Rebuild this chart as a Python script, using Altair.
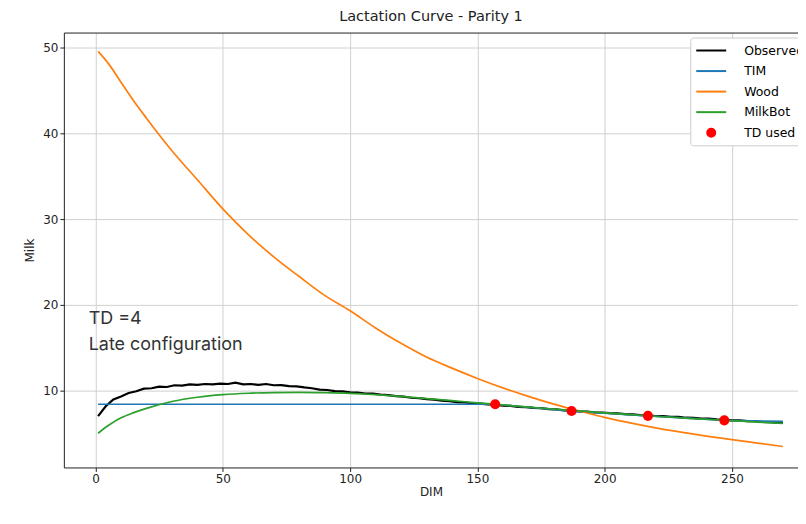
import altair as alt
import pandas as pd

# ---------------- data ----------------
obs_dim = list(range(1, 270, 3)) + [270]
obs_milk = [7.0, 8.15, 8.95, 9.3, 9.7, 9.9, 10.2, 10.25, 10.45, 10.4,
            10.6, 10.55, 10.7, 10.65, 10.75, 10.7, 10.8, 10.75, 10.9, 10.7,
            10.75, 10.65, 10.75, 10.6, 10.62, 10.5, 10.48, 10.35, 10.25, 10.1,
            10.05, 9.92, 9.88, 9.78, 9.75, 9.64, 9.62, 9.5, 9.45, 9.33,
            9.28, 9.14, 9.1, 8.98, 8.92, 8.8, 8.75, 8.64, 8.6, 8.5,
            8.45, 8.36, 8.34, 8.22, 8.2, 8.08, 8.05, 7.95, 7.93, 7.82,
            7.78, 7.67, 7.64, 7.56, 7.52, 7.44, 7.42, 7.34, 7.32, 7.24,
            7.2, 7.11, 7.1, 7.01, 7.0, 6.91, 6.9, 6.81, 6.8, 6.71,
            6.7, 6.61, 6.6, 6.51, 6.5, 6.41, 6.4, 6.31, 6.3, 6.21, 6.2]

fit_dim = [1, 5, 10, 15, 20, 30, 40, 50, 60, 70, 80, 90, 100, 110, 120, 130,
           140, 150, 160, 170, 180, 190, 200, 210, 220, 230, 240, 250, 260, 270]
wood_milk = [49.6, 48.2, 46.0, 43.8, 41.8, 38.0, 34.6, 31.2, 28.2, 25.6,
             23.3, 21.1, 19.3, 17.3, 15.5, 13.9, 12.6, 11.4, 10.3, 9.3,
             8.4, 7.6, 6.85, 6.2, 5.62, 5.12, 4.67, 4.25, 3.85, 3.45]
milkbot_milk = [5.0, 5.9, 6.8, 7.4, 7.9, 8.7, 9.2, 9.5, 9.67, 9.75,
                9.77, 9.73, 9.65, 9.5, 9.3, 9.05, 8.8, 8.55, 8.3, 8.05,
                7.82, 7.6, 7.38, 7.18, 6.98, 6.8, 6.63, 6.47, 6.3, 6.15]

tim_dim = [1, 157, 187, 217, 247, 270]
tim_milk = [8.38, 8.38, 7.59, 7.03, 6.50, 6.38]

td_dim = [157, 187, 217, 247]
td_milk = [8.38, 7.6, 7.03, 6.5]

series_names = ["Observed", "TIM", "Wood", "MilkBot", "TD used"]
series_colors = ["#000000", "#1f77b4", "#ff7f0e", "#2ca02c", "#ff0000"]

note_text = ["TD =4", "Late configuration"]
note_x = [-2.7, -2.7]
note_y = [18.3, 15.3]

x_ticks = [0, 50, 100, 150, 200, 250]
y_ticks = [10, 20, 30, 40, 50]

# ---------------- tables ----------------
def frame(name, dims, vals):
    return pd.DataFrame({"DIM": dims, "Milk": vals, "series": name})

obs_df = frame("Observed", obs_dim, obs_milk)
tim_df = frame("TIM", tim_dim, tim_milk)
wood_df = frame("Wood", fit_dim, wood_milk)
mb_df = frame("MilkBot", fit_dim, milkbot_milk)
td_df = frame("TD used", td_dim, td_milk)
note_df = pd.DataFrame({"x": note_x, "y": note_y, "text": note_text})

# plot area is cropped on the right like the reference picture
x_scale = alt.Scale(domain=[-12.45, 275.95], nice=False, zero=False)
y_scale = alt.Scale(domain=[1.0, 51.8], nice=False, zero=False)
color_scale = alt.Scale(domain=series_names, range=series_colors)

line_path = "M-1.875,0H1.875"
dot_path = "M0.5,0A0.5,0.5,0,1,1,-0.5,0A0.5,0.5,0,1,1,0.5,0Z"
shape_scale = alt.Scale(domain=series_names,
                        range=[line_path, line_path, line_path, line_path, dot_path])

legend = alt.Legend(
    title=None, orient="none", legendX=628, legendY=5,
    fillColor="white", strokeColor="#cccccc", padding=4, cornerRadius=3,
    labelFontSize=12.5, labelFont="DejaVu Sans", labelColor="#000000",
    symbolSize=256, symbolStrokeWidth=2, symbolOffset=8,
    rowPadding=4.6, labelOffset=24,
)

x_axis = alt.Axis(values=x_ticks, title="DIM")
y_axis = alt.Axis(values=y_ticks, title="Milk")
top_axis = alt.Axis(orient="top", labels=False, ticks=False, grid=False, domain=True, title=None)


def line_layer(df, width, interp, with_x_axis=False):
    return alt.Chart(df).mark_line(strokeWidth=width, clip=True, interpolate=interp).encode(
        x=alt.X("DIM:Q", scale=x_scale, axis=x_axis if with_x_axis else None),
        y=alt.Y("Milk:Q", scale=y_scale, axis=y_axis),
        color=alt.Color("series:N", scale=color_scale, legend=legend),
    )


obs_layer = line_layer(obs_df, 2.2, "linear", with_x_axis=True)
tim_layer = line_layer(tim_df, 1.7, "linear")
wood_layer = line_layer(wood_df, 1.7, "monotone")
mb_layer = line_layer(mb_df, 1.7, "monotone")

td_layer = alt.Chart(td_df).mark_point(filled=True, size=265, opacity=1, strokeWidth=2).encode(
    x=alt.X("DIM:Q", scale=x_scale, axis=None),
    y=alt.Y("Milk:Q", scale=y_scale, axis=y_axis),
    color=alt.Color("series:N", scale=color_scale, legend=legend),
    stroke=alt.Stroke("series:N", scale=color_scale, legend=legend),
    shape=alt.Shape("series:N", scale=shape_scale, legend=legend),
)

note_layer = alt.Chart(note_df).mark_text(
    align="left", baseline="middle", font="Inter", fontSize=18, color="#333333"
).encode(
    x=alt.X("x:Q", scale=x_scale, axis=top_axis),
    y=alt.Y("y:Q", scale=y_scale, axis=y_axis),
    text="text:N",
)

chart = alt.layer(obs_layer, tim_layer, wood_layer, mb_layer, td_layer, note_layer).resolve_axis(
    x="independent"
).properties(
    width=736,
    height=436,
    autosize="none",
    padding={"left": 56, "top": 24, "right": 0, "bottom": 30},
    title=alt.TitleParams("Lactation Curve - Parity 1", font="DejaVu Sans", fontSize=14.5,
                          fontWeight="normal", color="#222222", offset=8),
).configure_axis(
    labelFont="DejaVu Sans", labelFontSize=12, labelColor="#222222",
    titleFont="DejaVu Sans", titleFontSize=12, titleFontWeight="normal", titleColor="#222222",
    gridColor="#d0d0d0", gridWidth=1, domainColor="#222222", tickColor="#222222",
    tickSize=4, labelPadding=2,
).configure_axisX(titlePadding=2).configure_axisY(titlePadding=6).configure_view(
    stroke="transparent", strokeWidth=0
)

chart.save("out.html", embed_options={"renderer": "svg", "actions": False})
